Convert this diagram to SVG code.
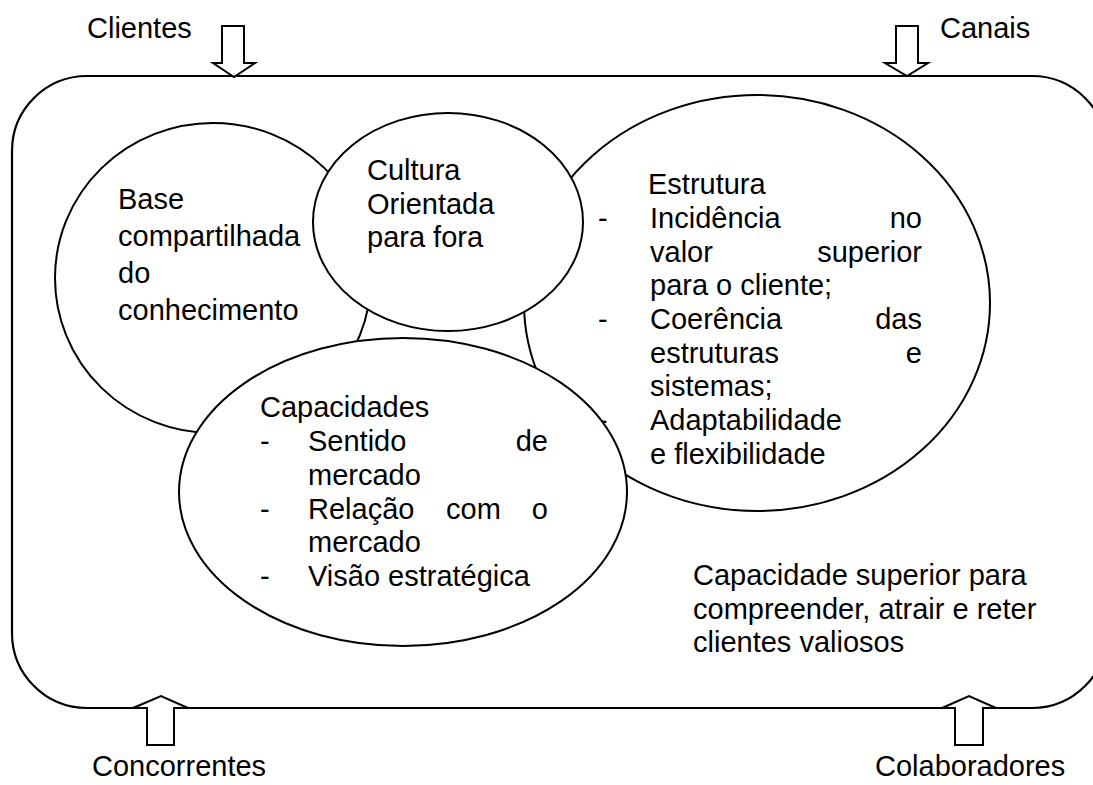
<svg xmlns="http://www.w3.org/2000/svg" width="1093" height="785" viewBox="0 0 1093 785">
<style>
  .t { font-family: "Liberation Sans", Arial, sans-serif; font-size: 29px; fill: #000; }
  .e { fill: #fff; stroke: #000; stroke-width: 2; }
  .frame { fill: none; stroke: #000; stroke-width: 2.2; }
  .arr { fill: #fff; stroke: #000; stroke-width: 2; stroke-linejoin: miter; }
</style>
<rect width="1093" height="785" fill="#fff"/>

<g id="frame">
  <rect class="frame" x="12" y="76" width="1095" height="632" rx="75" ry="75"/>
  <text class="t" x="693" y="585">Capacidade superior para</text>
  <text class="t" x="693" y="619">compreender, atrair e reter</text>
  <text class="t" x="693" y="652">clientes valiosos</text>
</g>

<g id="node-base">
  <ellipse class="e" cx="213" cy="278" rx="158" ry="155"/>
  <text class="t" x="118" y="209">Base</text>
  <text class="t" x="118" y="246">compartilhada</text>
  <text class="t" x="118" y="283">do</text>
  <text class="t" x="118" y="320">conhecimento</text>
</g>

<g id="node-estrutura">
  <ellipse class="e" cx="757" cy="303" rx="233" ry="208"/>
  <text class="t" x="648" y="194">Estrutura</text>
  <text class="t" x="598" y="228">-</text>
  <text class="t" x="650" y="228">Incidência</text>
  <text class="t" x="922" y="228" text-anchor="end">no</text>
  <text class="t" x="650" y="262">valor</text>
  <text class="t" x="922" y="262" text-anchor="end">superior</text>
  <text class="t" x="650" y="295">para o cliente;</text>
  <text class="t" x="598" y="329">-</text>
  <text class="t" x="650" y="329">Coerência</text>
  <text class="t" x="922" y="329" text-anchor="end">das</text>
  <text class="t" x="650" y="363">estruturas</text>
  <text class="t" x="922" y="363" text-anchor="end">e</text>
  <text class="t" x="650" y="396">sistemas;</text>
  <text class="t" x="598" y="430">-</text>
  <text class="t" x="650" y="430">Adaptabilidade</text>
  <text class="t" x="650" y="464">e flexibilidade</text>
</g>

<g id="node-cultura">
  <ellipse class="e" cx="448" cy="222" rx="135" ry="109"/>
  <text class="t" x="367" y="180">Cultura</text>
  <text class="t" x="367" y="213.5">Orientada</text>
  <text class="t" x="367" y="247">para fora</text>
</g>

<g id="node-capacidades">
  <ellipse class="e" cx="403" cy="492" rx="224" ry="154"/>
  <text class="t" x="260" y="417">Capacidades</text>
  <text class="t" x="260" y="451">-</text>
  <text class="t" x="308" y="451">Sentido</text>
  <text class="t" x="548" y="451" text-anchor="end">de</text>
  <text class="t" x="308" y="485">mercado</text>
  <text class="t" x="260" y="519">-</text>
  <text class="t" x="308" y="519">Relação</text>
  <text class="t" x="446" y="519">com</text>
  <text class="t" x="548" y="519" text-anchor="end">o</text>
  <text class="t" x="308" y="552">mercado</text>
  <text class="t" x="260" y="586">-</text>
  <text class="t" x="308" y="586">Visão estratégica</text>
</g>

<g id="connectors">
  <polygon class="arr" points="222,26 244,26 244,63 255,63 234,77 213,63 222,63"/>
  <polygon class="arr" points="896,26 918,26 918,63 928,63 907,76 885,63 896,63"/>
  <polygon class="arr" points="147,745 147,708 133,708 161,696 188,708 174,708 174,745"/>
  <polygon class="arr" points="955,745 955,708 942,708 969,696 996,708 983,708 983,745"/>
</g>

<g id="label-clientes"><text class="t" x="87" y="38">Clientes</text></g>
<g id="label-canais"><text class="t" x="940" y="38">Canais</text></g>
<g id="label-concorrentes"><text class="t" x="92" y="776">Concorrentes</text></g>
<g id="label-colaboradores"><text class="t" x="875" y="776">Colaboradores</text></g>
</svg>
